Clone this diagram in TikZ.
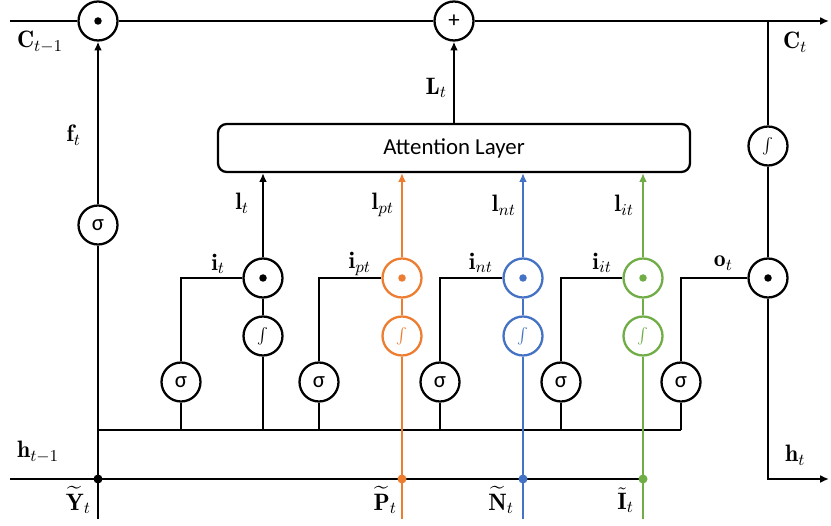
\RequirePackage{fix-cm}
\documentclass[tikz,border=0pt]{standalone}
\usepackage{amsmath}
\usepackage{fontspec}
\newfontfamily\calibri{Carlito}
\usetikzlibrary{arrows.meta}
\definecolor{lstmorange}{RGB}{237,125,49}
\definecolor{lstmblue}{RGB}{68,114,196}
\definecolor{lstmgreen}{RGB}{112,173,71}

\begin{document}
\begin{tikzpicture}[
    gate/.style={circle, draw, fill=white, line width=1.3pt,
                 minimum size=0.78cm, inner sep=0pt,
                 font=\calibri\fontsize{13}{13}\selectfont},
    act/.style={gate, font=\small},
    mul/.style={gate, path picture={\fill[#1]
                (path picture bounding box.center) circle (0.075cm);}},
    mul/.default=black,
    layer/.style={rectangle, draw, rounded corners=5pt, line width=1.3pt,
                  minimum width=9.44cm, minimum height=0.96cm,
                  font=\calibri\fontsize{13}{13}\selectfont},
    lbl/.style={font=\fontsize{13.5}{16}\selectfont, inner sep=1pt},
    wire/.style={line width=1.4pt},
    arrow/.style={wire, -{Latex[length=5pt, width=4.5pt]}},
    dot/.style={circle, fill, inner sep=0pt, minimum size=0.18cm},
]
\useasboundingbox (0,0) rectangle (16.62,10.50);

% ── Row A  y=10.08 : cell state line ──────────────────────────────
\coordinate (cin)  at (0.20,10.08);
\coordinate (cout) at (16.58,10.08);
\coordinate (cj)   at (15.36,10.08);
\node[mul]  (fmul) at (1.96,10.08) {};
\node[gate] (add)  at (9.08,10.08) {+};

% ── Row B  y=7.54 : attention ─────────────────────────────────────
\node[layer] (attn) at (9.08,7.54) {Attention Layer};
\node[act]   (actc) at (15.36,7.58) {$\int$};

% forget gate on the left column
\node[gate] (sigf) at (1.96,6.00) {σ};

% ── Row C  y=4.94 : products ──────────────────────────────────────
\node[mul] (mult)  at (5.26,4.94) {};
\node[mul=lstmorange, draw=lstmorange] (mulpt) at (8.04,4.94) {};
\node[mul=lstmblue, draw=lstmblue]     (mulnt) at (10.46,4.94) {};
\node[mul=lstmgreen, draw=lstmgreen]   (mulit) at (12.86,4.94) {};
\node[mul] (mulo)  at (15.36,4.94) {};

% ── Row D  y=3.78 : candidate activations ────────────────────────
\node[act] (actt)  at (5.26,3.78) {$\int$};
\node[act, draw=lstmorange, text=lstmorange] (actpt) at (8.04,3.78) {$\int$};
\node[act, draw=lstmblue, text=lstmblue]     (actnt) at (10.46,3.78) {$\int$};
\node[act, draw=lstmgreen, text=lstmgreen]   (actit) at (12.86,3.78) {$\int$};

% ── Row E  y=2.86 : sigmoid gates ─────────────────────────────────
\node[gate] (sigt)  at (3.62,2.86) {σ};
\node[gate] (sigpt) at (6.38,2.86) {σ};
\node[gate] (signt) at (8.80,2.86) {σ};
\node[gate] (sigit) at (11.22,2.86) {σ};
\node[gate] (sigo)  at (13.62,2.86) {σ};

% ── Row F  y=1.90 / 0.92 : bus and hidden state ──────────────────
\coordinate (busL) at (1.96,1.90);
\coordinate (busR) at (13.62,1.90);
\coordinate (hin)  at (0.20,0.92);
\coordinate (hout) at (16.58,0.92);
\coordinate (jY)   at (1.96,0.92);
\coordinate (jP)   at (8.04,0.92);
\coordinate (jN)   at (10.46,0.92);
\coordinate (jI)   at (12.86,0.92);
\coordinate (inY)  at (1.96,0.12);
\coordinate (inP)  at (8.04,0.12);
\coordinate (inN)  at (10.46,0.12);
\coordinate (inI)  at (12.86,0.12);

% ── Arrows ────────────────────────────────────────────────────────

% cell state: C_{t-1} -> forget product -> sum -> C_t
\draw[wire]  (cin)  -- (fmul);
\draw[wire]  (fmul) -- (add);
\draw[arrow] (add)  -- (cout);
\draw[arrow] (attn) -- (add);

% C_t -> tanh -> output product -> h_t
\draw[wire]  (cj)   -- (actc);
\draw[wire]  (actc) -- (mulo);
\draw[arrow] (mulo) |- (hout);

% forget gate column
\draw[wire]  (inY)  -- (sigf);
\draw[arrow] (sigf) -- (fmul);

% h_{t-1} line and inner bus
\draw[wire] (hin)  -- (jI);
\draw[wire] (busL) -- (busR);
\draw[wire] (sigt)  -- (sigt |- busL);
\draw[wire] (actt)  -- (actt |- busL);
\draw[wire] (sigpt) -- (sigpt |- busL);
\draw[wire] (signt) -- (signt |- busL);
\draw[wire] (sigit) -- (sigit |- busL);
\draw[wire] (sigo)  -- (busR);

% sigmoid gates into the products
\draw[wire] (sigt)  |- (mult);
\draw[wire] (sigpt) |- (mulpt);
\draw[wire] (signt) |- (mulnt);
\draw[wire] (sigit) |- (mulit);
\draw[wire] (sigo)  |- (mulo);

% input column i_t
\draw[wire]  (actt) -- (mult);
\draw[arrow] (mult) -- (mult |- attn.south);

% input column i_pt (orange)
\draw[wire, lstmorange]  (inP)   -- (actpt);
\draw[wire, lstmorange]  (actpt) -- (mulpt);
\draw[arrow, lstmorange] (mulpt) -- (mulpt |- attn.south);

% input column i_nt (blue)
\draw[wire, lstmblue]  (inN)   -- (actnt);
\draw[wire, lstmblue]  (actnt) -- (mulnt);
\draw[arrow, lstmblue] (mulnt) -- (mulnt |- attn.south);

% input column i_it (green)
\draw[wire, lstmgreen]  (inI)   -- (actit);
\draw[wire, lstmgreen]  (actit) -- (mulit);
\draw[arrow, lstmgreen] (mulit) -- (mulit |- attn.south);

% junction dots on h_{t-1}
\node[dot]             (dY) at (jY) {};
\node[dot, lstmorange] (dP) at (jP) {};
\node[dot, lstmblue]   (dN) at (jN) {};
\node[dot, lstmgreen]  (dI) at (jI) {};

% ── Labels (right edge kept clear of the line they name) ─────────
\node[lbl, anchor=west] (tCm) at (0.30,9.66)  {$\mathbf{C}_{t-1}$};
\node[lbl, anchor=west] (tC)  at (15.62,9.66) {$\mathbf{C}_{t}$};
\node[lbl, anchor=east] (tf)  at (1.66,7.80)  {$\mathbf{f}_{t}$};
\node[lbl, anchor=east] (tL)  at (8.98,8.74)  {$\mathbf{L}_{t}$};
\node[lbl, anchor=east] (tl1) at (5.02,6.44)  {$\mathbf{l}_{t}$};
\node[lbl, anchor=east] (tl2) at (7.92,6.40)  {$\mathbf{l}_{pt}$};
\node[lbl, anchor=east] (tl3) at (10.36,6.40) {$\mathbf{l}_{nt}$};
\node[lbl, anchor=east] (tl4) at (12.72,6.40) {$\mathbf{l}_{it}$};
\node[lbl, anchor=east] (ti1) at (4.54,5.22)  {$\mathbf{i}_{t}$};
\node[lbl, anchor=east] (ti2) at (7.46,5.22)  {$\mathbf{i}_{pt}$};
\node[lbl, anchor=east] (ti3) at (9.90,5.24)  {$\mathbf{i}_{nt}$};
\node[lbl, anchor=east] (ti4) at (12.28,5.24) {$\mathbf{i}_{it}$};
\node[lbl, anchor=east] (to)  at (14.70,5.24) {$\mathbf{o}_{t}$};
\node[lbl, anchor=west] (thm) at (0.30,1.46)  {$\mathbf{h}_{t-1}$};
\node[lbl, anchor=west] (th)  at (15.66,1.40) {$\mathbf{h}_{t}$};
\node[lbl, anchor=east] (tY)  at (1.86,0.50)  {$\widetilde{\mathbf{Y}}_{t}$};
\node[lbl, anchor=east] (tP)  at (7.98,0.50)  {$\widetilde{\mathbf{P}}_{t}$};
\node[lbl, anchor=east] (tN)  at (10.32,0.50) {$\widetilde{\mathbf{N}}_{t}$};
\node[lbl, anchor=east] (tI)  at (12.72,0.50) {$\tilde{\mathbf{I}}_{t}$};

\end{tikzpicture}
\end{document}
